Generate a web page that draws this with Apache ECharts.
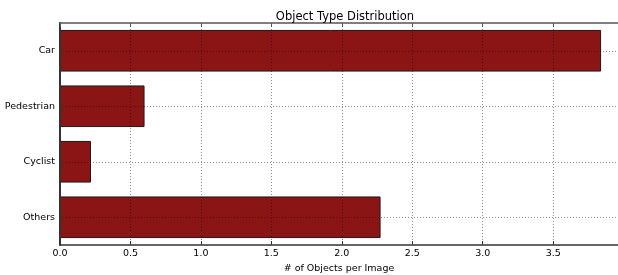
<!DOCTYPE html>
<html>
<head>
<meta charset="utf-8">
<script src="https://cdn.jsdelivr.net/npm/echarts@6/dist/echarts.min.js"></script>
<style>
  html, body { margin: 0; padding: 0; background: #fff; }
  #chart { width: 618px; height: 275px; }
</style>
</head>
<body>
<div id="chart"></div>
<script>
const categories = ['Car', 'Pedestrian', 'Cyclist', 'Others'];
const objectsPerImage = [3.84, 0.60, 0.22, 2.275];
const xTicks = { min: 0, max: 3.96, interval: 0.5 };

const font = 'DejaVu Sans';
const gridLine = { color: 'rgba(0,0,0,0.45)', type: [1, 2], width: 1 };

const chart = echarts.init(document.getElementById('chart'));

chart.setOption({
  animation: false,
  title: {
    text: 'Object Type Distribution',
    left: 340,
    top: 6,
    textAlign: 'center',
    textStyle: { fontFamily: font, fontSize: 11.5, fontWeight: 'normal', color: '#000' }
  },
  grid: { left: 60, right: 0, top: 23, bottom: 30, outerBoundsMode: 'none', containLabel: false },
  xAxis: [{
    type: 'value',
    min: xTicks.min,
    max: xTicks.max,
    interval: xTicks.interval,
    z: 5,
    name: '# of Objects per Image',
    nameLocation: 'middle',
    nameGap: 19,
    nameTextStyle: { fontFamily: font, fontSize: 9.5, color: '#000' },
    axisLine: { show: true, lineStyle: { color: '#333', width: 1.5 } },
    axisTick: { show: true, inside: true, length: 4, lineStyle: { color: '#333' } },
    axisLabel: {
      fontFamily: font, fontSize: 9.5, color: '#000', margin: 4,
      formatter: v => v.toFixed(1),
      showMaxLabel: false
    },
    splitLine: { show: true, lineStyle: gridLine }
  }, {
    type: 'value',
    position: 'top',
    min: xTicks.min,
    max: xTicks.max,
    interval: xTicks.interval,
    z: 5,
    axisLine: { show: true, lineStyle: { color: '#555', width: 1.5 } },
    axisTick: { show: true, inside: true, length: 4, lineStyle: { color: '#555' } },
    axisLabel: { show: false },
    splitLine: { show: false }
  }],
  yAxis: {
    type: 'category',
    data: categories,
    inverse: true,
    z: 5,
    axisLine: { show: true, lineStyle: { color: '#333', width: 2 } },
    axisTick: { show: true, inside: true, alignWithLabel: true, length: 4, lineStyle: { color: '#333' } },
    axisLabel: { fontFamily: font, fontSize: 9.5, color: '#000', margin: 5 },
    splitLine: { show: false }
  },
  series: [{
    type: 'bar',
    data: objectsPerImage,
    barCategoryGap: '25%',
    itemStyle: { color: '#8B1515', borderColor: '#1a1a1a', borderWidth: 1 },
    markLine: {
      silent: true,
      symbol: 'none',
      label: { show: false },
      lineStyle: gridLine,
      data: categories.map(c => ({ yAxis: c }))
    }
  }]
});
</script>
</body>
</html>
